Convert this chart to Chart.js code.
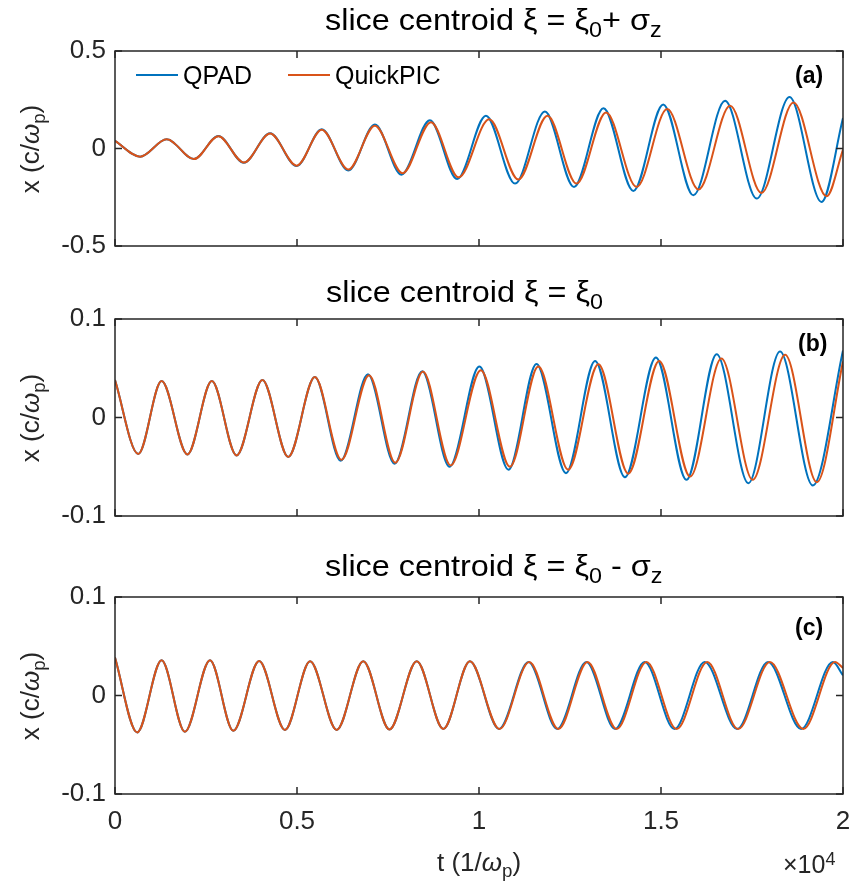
<!DOCTYPE html>
<html>
<head>
<meta charset="utf-8">
<script src="https://cdn.jsdelivr.net/npm/chart.js@4.4.1/dist/chart.umd.min.js"></script>
<style>
  html, body { margin: 0; padding: 0; background: #fff; }
  #wrap { position: relative; width: 851px; height: 890px; overflow: hidden; font-family: "Liberation Sans", Arial, sans-serif; color: #000; }
  canvas { position: absolute; left: 0; }
  .txt { position: absolute; white-space: nowrap; line-height: 1; }
  .sb { position: relative; top: 0.33em; font-size: 0.72em; }
  .sp { position: relative; top: -0.45em; font-size: 0.72em; }
</style>
</head>
<body>
<div id="wrap">
  <canvas id="ca"></canvas>
  <canvas id="cb"></canvas>
  <canvas id="cc"></canvas>
</div>
<script>
// ---------------- DATA ----------------
// time in 1/omega_p, x in c/omega_p  (peaks / troughs / end points)
const seriesNames = ["QPAD", "QuickPIC"];

// panel (a): slice centroid xi = xi0 + sigma_z
const tA_QPAD = [0, 690, 1420, 2170, 2840, 3540, 4260, 4990, 5680, 6410, 7140, 7870, 8650, 9400, 10190, 10990, 11810, 12610, 13420, 14240, 15060, 15890, 16760, 17630, 18530, 19410, 20000];
const xA_QPAD = [0.039, -0.042, 0.047, -0.054, 0.064, -0.073, 0.078, -0.090, 0.099, -0.113, 0.123, -0.134, 0.145, -0.157, 0.168, -0.180, 0.190, -0.197, 0.207, -0.218, 0.226, -0.240, 0.245, -0.257, 0.264, -0.274, 0.156];
const tA_QuickPIC = [0, 690, 1420, 2170, 2840, 3540, 4260, 4990, 5680, 6410, 7140, 7900, 8680, 9440, 10280, 11080, 11880, 12680, 13490, 14330, 15170, 16030, 16900, 17760, 18640, 19550, 20000];
const xA_QuickPIC = [0.039, -0.042, 0.047, -0.054, 0.063, -0.072, 0.077, -0.088, 0.096, -0.108, 0.117, -0.127, 0.135, -0.148, 0.150, -0.159, 0.168, -0.180, 0.185, -0.197, 0.202, -0.210, 0.219, -0.228, 0.236, -0.245, -0.005];

// panel (b): slice centroid xi = xi0
const tB_QPAD = [0, 640, 1280, 1990, 2660, 3340, 4050, 4760, 5490, 6200, 6950, 7680, 8440, 9190, 10010, 10810, 11580, 12390, 13190, 14010, 14860, 15700, 16530, 17400, 18270, 19170, 20000];
const xB_QPAD = [0.038, -0.037, 0.037, -0.0375, 0.037, -0.0385, 0.038, -0.040, 0.041, -0.044, 0.044, -0.047, 0.047, -0.050, 0.0517, -0.053, 0.0544, -0.0565, 0.0574, -0.0606, 0.0608, -0.0633, 0.0643, -0.0667, 0.067, -0.069, 0.068];
const tB_QuickPIC = [0, 640, 1280, 1990, 2660, 3340, 4050, 4760, 5490, 6220, 6980, 7700, 8460, 9220, 10050, 10850, 11630, 12450, 13280, 14100, 14950, 15800, 16660, 17520, 18410, 19280, 20000];
const xB_QuickPIC = [0.038, -0.037, 0.037, -0.0375, 0.037, -0.0385, 0.038, -0.040, 0.041, -0.043, 0.043, -0.046, 0.0466, -0.0487, 0.048, -0.050, 0.0517, -0.053, 0.054, -0.057, 0.0574, -0.060, 0.060, -0.0633, 0.0636, -0.0657, 0.0568];

// panel (c): slice centroid xi = xi0 - sigma_z
const tC_QPAD = [0, 610, 1280, 1920, 2610, 3250, 3960, 4670, 5360, 6090, 6820, 7540, 8290, 9020, 9750, 10550, 11360, 12150, 12950, 13740, 14550, 15370, 16200, 17090, 17940, 18850, 19720, 20000];
const xC_QPAD = [0.0386, -0.0375, 0.0358, -0.0368, 0.0358, -0.0358, 0.035, -0.035, 0.0348, -0.035, 0.0348, -0.0345, 0.0348, -0.034, 0.0348, -0.034, 0.034, -0.034, 0.034, -0.034, 0.034, -0.034, 0.034, -0.034, 0.034, -0.034, 0.034, 0.0205];
const tC_QuickPIC = [0, 610, 1280, 1920, 2610, 3250, 3960, 4670, 5360, 6090, 6820, 7540, 8290, 9020, 9750, 10560, 11380, 12180, 12980, 13780, 14600, 15430, 16270, 17120, 17990, 18910, 19780, 20000];
const xC_QuickPIC = [0.0386, -0.0375, 0.0358, -0.0368, 0.0358, -0.0358, 0.035, -0.035, 0.0348, -0.035, 0.0348, -0.0345, 0.0348, -0.034, 0.0348, -0.034, 0.034, -0.034, 0.034, -0.034, 0.034, -0.034, 0.034, -0.034, 0.034, -0.034, 0.034, 0.028];

// axes
const xTickValues = [0, 5000, 10000, 15000, 20000];
const yTicksA = [-0.5, 0, 0.5];
const yTicksB = [-0.1, 0, 0.1];
const yTicksC = [-0.1, 0, 0.1];

// ---------------- DRAWING ----------------
const BLUE = "#0072BD", ORANGE = "#D95319", AX = "#262626";
const FONT = "'Liberation Sans', Arial, sans-serif";

function pts(t, x) { return t.map((v, i) => ({ x: v, y: x[i] })); }

const boxPlugin = {
  id: "box",
  afterDatasetsDraw(chart) {
    const { ctx, chartArea: a, scales } = chart;
    ctx.save();
    ctx.strokeStyle = AX;
    ctx.lineWidth = 1.5;
    ctx.strokeRect(a.left, a.top, a.right - a.left, a.bottom - a.top);
    const L = 7;
    ctx.beginPath();
    scales.x.ticks.forEach(tk => {
      const px = scales.x.getPixelForValue(tk.value);
      ctx.moveTo(px, a.bottom); ctx.lineTo(px, a.bottom - L);
      ctx.moveTo(px, a.top); ctx.lineTo(px, a.top + L);
    });
    scales.y.ticks.forEach(tk => {
      const py = scales.y.getPixelForValue(tk.value);
      ctx.moveTo(a.left, py); ctx.lineTo(a.left + L, py);
      ctx.moveTo(a.right, py); ctx.lineTo(a.right - L, py);
    });
    ctx.stroke();
    ctx.restore();
  }
};

function makePanel(id, top, plotH, bottomExtra, showX, tq, xq, tp, xp, yTicks) {
  const cv = document.getElementById(id);
  const PADTOP = 20;
  cv.width = 851; cv.height = plotH + PADTOP + bottomExtra;
  cv.style.top = (top - PADTOP) + "px";
  const ymin = yTicks[0], ymax = yTicks[yTicks.length - 1];
  new Chart(cv, {
    type: "line",
    data: {
      datasets: [
        { label: seriesNames[0], data: pts(tq, xq), borderColor: BLUE, borderWidth: 2, pointRadius: 0, pointHoverRadius: 0, pointHitRadius: 0, cubicInterpolationMode: "monotone", order: 1 },
        { label: seriesNames[1], data: pts(tp, xp), borderColor: ORANGE, borderWidth: 2, pointRadius: 0, pointHoverRadius: 0, pointHitRadius: 0, cubicInterpolationMode: "monotone", order: 0 }
      ]
    },
    options: {
      responsive: false, animation: false, devicePixelRatio: 1,
      layout: { autoPadding: false, padding: { top: PADTOP, right: 8, left: 0, bottom: 0 } },
      plugins: { legend: { display: false }, tooltip: { enabled: false } },
      scales: {
        x: {
          type: "linear", min: 0, max: 20000,
          afterBuildTicks: s => { s.ticks = xTickValues.map(v => ({ value: v })); },
          ticks: { display: showX, font: { size: 26, family: FONT }, color: AX, padding: 12, maxRotation: 0, callback: v => String(v / 1e4) },
          grid: { display: false, drawTicks: false }, border: { display: false },
          afterFit: s => { s.height = bottomExtra; s.paddingLeft = 0; s.paddingRight = 0; }
        },
        y: {
          min: ymin, max: ymax,
          afterBuildTicks: s => { s.ticks = yTicks.map(v => ({ value: v })); },
          ticks: { font: { size: 26, family: FONT }, color: AX, padding: 9, callback: v => String(v) },
          grid: { display: false, drawTicks: false }, border: { display: false },
          afterFit: s => { s.width = 115; s.paddingTop = 0; s.paddingBottom = 0; }
        }
      }
    },
    plugins: [boxPlugin]
  });
}

makePanel("ca", 51, 195, 20, false, tA_QPAD, xA_QPAD, tA_QuickPIC, xA_QuickPIC, yTicksA);
makePanel("cb", 319, 197, 20, false, tB_QPAD, xB_QPAD, tB_QuickPIC, xB_QuickPIC, yTicksB);
makePanel("cc", 597, 197, 62, true, tC_QPAD, xC_QPAD, tC_QuickPIC, xC_QuickPIC, yTicksC);

// ---------------- TEXT OVERLAYS ----------------
const wrap = document.getElementById("wrap");
function text(html, left, baseline, size, extra) {
  const d = document.createElement("div");
  d.className = "txt";
  d.innerHTML = html;
  d.style.fontSize = size + "px";
  d.style.left = left + "px";
  d.style.top = (baseline - 0.8465 * size) + "px";
  if (extra) Object.assign(d.style, extra);
  wrap.appendChild(d);
  return d;
}
const TSTY = { transform: "scaleX(1.08)", transformOrigin: "0 0" };
// titles
text('slice centroid ξ = ξ<span class="sb">0</span>+ σ<span class="sb">z</span>', 325, 30, 30, TSTY);
text('slice centroid ξ = ξ<span class="sb">0</span>', 326, 302, 30, TSTY);
text('slice centroid ξ = ξ<span class="sb">0</span> - σ<span class="sb">z</span>', 325, 576, 30, TSTY);

// y labels (rotated)
[149, 418, 696].forEach(cy => {
  const d = document.createElement("div");
  d.className = "txt";
  d.innerHTML = 'x (c/<i>ω</i><span class="sb">p</span>)';
  Object.assign(d.style, { fontSize: "26px", left: "30px", top: cy + "px", color: AX, transform: "translate(-50%,-50%) rotate(-90deg)" });
  wrap.appendChild(d);
});

// x label + exponent
text('t (1/<i>ω</i><span class="sb">p</span>)', 437, 871, 26, { color: AX });
text('×10<span class="sp">4</span>', 783, 873, 25, { color: AX });

// legend (panel a)
function seg(left, top, w, color) {
  const d = document.createElement("div");
  Object.assign(d.style, { position: "absolute", left: left + "px", top: top + "px", width: w + "px", height: "2px", background: color });
  wrap.appendChild(d);
}
seg(136, 74, 42, BLUE);
text(seriesNames[0], 183, 84, 25);
seg(288, 74, 42, ORANGE);
text(seriesNames[1], 335, 84, 25);

// panel letters
text('<b>(a)</b>', 795, 83, 23);
text('<b>(b)</b>', 798, 351, 23);
text('<b>(c)</b>', 795, 635, 23);
</script>
</body>
</html>
